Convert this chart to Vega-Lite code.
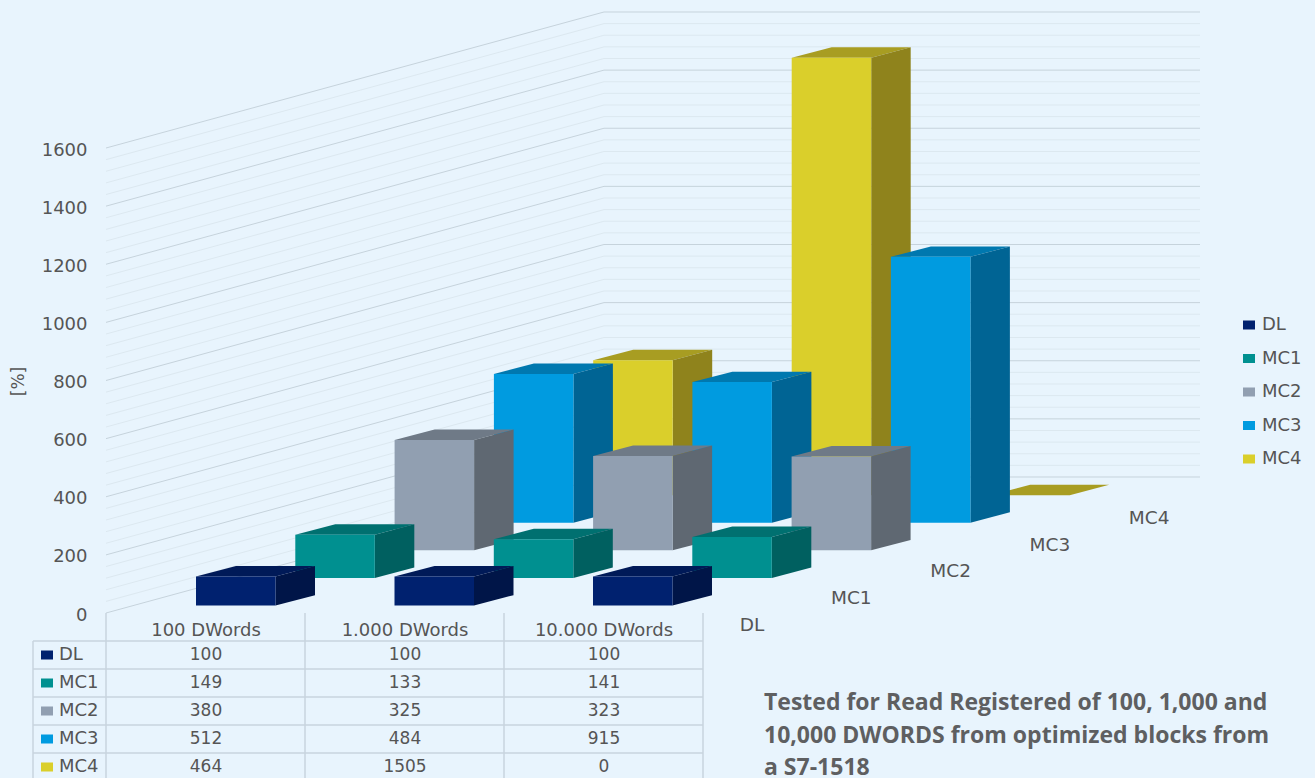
{
"$schema":"https://vega.github.io/schema/vega-lite/v6.json",
"width":1315,"height":778,"padding":0,"autosize":{"type":"none"},
"background":"#E8F4FD",
"resolve":{"axis":{"y":"independent"}},
"config":{"view":{"stroke":null},"font":"DejaVu Sans","text":{"font":"DejaVu Sans","color":"#555555","fontSize":18}},
"datasets":{
"bars":[
{"load":"100 DWords","series":"MC4","value":464},{"load":"1.000 DWords","series":"MC4","value":1505},{"load":"10.000 DWords","series":"MC4","value":0},
{"load":"100 DWords","series":"MC3","value":512},{"load":"1.000 DWords","series":"MC3","value":484},{"load":"10.000 DWords","series":"MC3","value":915},
{"load":"100 DWords","series":"MC2","value":380},{"load":"1.000 DWords","series":"MC2","value":325},{"load":"10.000 DWords","series":"MC2","value":323},
{"load":"100 DWords","series":"MC1","value":149},{"load":"1.000 DWords","series":"MC1","value":133},{"load":"10.000 DWords","series":"MC1","value":141},
{"load":"100 DWords","series":"DL","value":100},{"load":"1.000 DWords","series":"DL","value":100},{"load":"10.000 DWords","series":"DL","value":100}],
"seriesList":[{"series":"DL","si":0},{"series":"MC1","si":1},{"series":"MC2","si":2},{"series":"MC3","si":3},{"series":"MC4","si":4}],
"loadList":[{"load":"100 DWords","gi":0},{"load":"1.000 DWords","gi":1},{"load":"10.000 DWords","gi":2}],
"levels":[{"level":0},{"level":40},{"level":80},{"level":120},{"level":160},{"level":200},{"level":240},{"level":280},{"level":320},{"level":360},{"level":400},{"level":440},{"level":480},{"level":520},{"level":560},{"level":600},{"level":640},{"level":680},{"level":720},{"level":760},{"level":800},{"level":840},{"level":880},{"level":920},{"level":960},{"level":1000},{"level":1040},{"level":1080},{"level":1120},{"level":1160},{"level":1200},{"level":1240},{"level":1280},{"level":1320},{"level":1360},{"level":1400},{"level":1440},{"level":1480},{"level":1520},{"level":1560},{"level":1600}],
"colEdges":[{"c":0},{"c":1},{"c":2},{"c":3}],
"rowEdges":[{"r":0},{"r":1},{"r":2},{"r":3},{"r":4}]
},
"layer":[
{"data":{"name":"levels"},
 "transform":[{"calculate":"datum.level+468","as":"back"}],
 "mark":{"type":"rule"},
 "encoding":{
  "x":{"datum":106,"type":"quantitative","scale":{"domain":[0,1315]},"axis":null},
  "x2":{"datum":604},
  "y":{"field":"level","type":"quantitative","scale":{"domain":[-567.74,2109.25]},
   "axis":{"values":[0,200,400,600,800,1000,1200,1400,1600],"format":"d","orient":"left","offset":-87,"domain":false,"ticks":false,"grid":false,"labelPadding":0,"labelOffset":2,"labelFontSize":18,"labelFont":"DejaVu Sans","labelColor":"#555555","title":"[%]","titleFontSize":17,"titleFont":"DejaVu Sans","titleFontWeight":"normal","titleColor":"#555555","titleX":-60,"titleY":381,"titleAngle":270}},
  "y2":{"field":"back"},
  "stroke":{"condition":{"test":"datum.level%200===0","value":"#C6D3DC"},"value":"#DCE8F0"}
 }},
{"data":{"name":"levels"},
 "transform":[{"calculate":"datum.level+468","as":"back"}],
 "mark":{"type":"rule"},
 "encoding":{
  "x":{"datum":604,"type":"quantitative","scale":{"domain":[0,1315]},"axis":null},
  "x2":{"datum":1200},
  "y":{"field":"back","type":"quantitative","scale":{"domain":[-567.74,2109.25]},"axis":null},
  "stroke":{"condition":{"test":"datum.level%200===0","value":"#C6D3DC"},"value":"#DCE8F0"}
 }},
{"data":{"name":"bars"},
 "transform":[
  {"calculate":"indexof(['DL','MC1','MC2','MC3','MC4'],datum.series)","as":"si"},
  {"calculate":"indexof(['100 DWords','1.000 DWords','10.000 DWords'],datum.load)","as":"gi"},
  {"calculate":"196+198.5*datum.gi+99.3*datum.si","as":"x0"},
  {"calculate":"25.5+95*datum.si","as":"base"},
  {"calculate":"datum.base+datum.value","as":"top"},
  {"calculate":"[['top',datum.x0,datum.top,datum.top],['top',datum.x0+40,datum.top,datum.top+36],['top',datum.x0+79.5,datum.top,datum.top+36],['top',datum.x0+119,datum.top+36,datum.top+36],['side',datum.x0+79.5,datum.base,datum.top],['side',datum.x0+119,datum.base+36,datum.top+36],['front',datum.x0,datum.base,datum.top],['front',datum.x0+79.5,datum.base,datum.top]]","as":"verts"},
  {"flatten":["verts"]},
  {"calculate":"datum.verts[0]","as":"face"},
  {"calculate":"datum.verts[1]","as":"vx"},
  {"calculate":"datum.verts[2]","as":"vy"},
  {"calculate":"datum.verts[3]","as":"vy2"},
  {"calculate":"datum.series+' '+datum.face","as":"faceColor"},
  {"calculate":"datum.series+' '+datum.load+' '+datum.face","as":"faceId"}
 ],
 "mark":{"type":"area","interpolate":"linear","opacity":1},
 "encoding":{
  "x":{"field":"vx","type":"quantitative","scale":{"domain":[0,1315]},"axis":null},
  "y":{"field":"vy","type":"quantitative","stack":null,"scale":{"domain":[-567.74,2109.25]},"axis":null},
  "y2":{"field":"vy2"},
  "detail":{"field":"faceId"},
  "fill":{"field":"faceColor","type":"nominal","legend":null,"scale":{
   "domain":["DL front","DL side","DL top","MC1 front","MC1 side","MC1 top","MC2 front","MC2 side","MC2 top","MC3 front","MC3 side","MC3 top","MC4 front","MC4 side","MC4 top"],
   "range":["#00216F","#001548","#001A58","#009090","#006060","#007070","#919FB1","#5F6872","#6F7A87","#009BE0","#006494","#0078AF","#DACF2B","#8F831C","#A89D22"]}}
 }},
{"data":{"name":"seriesList"},
 "transform":[{"calculate":"752+99.3*datum.si","as":"lx"},{"calculate":"(613-625+26.8*datum.si)/0.290625","as":"ly"}],
 "mark":{"type":"text","align":"center","baseline":"middle","fontSize":18.5},
 "encoding":{
  "x":{"field":"lx","type":"quantitative","scale":{"domain":[0,1315]},"axis":null},
  "y":{"field":"ly","type":"quantitative","scale":{"domain":[-567.74,2109.25]},"axis":null},
  "text":{"field":"series"}
 }},
{"data":{"name":"colEdges"},
 "transform":[{"calculate":"106+199*datum.c","as":"ex"}],
 "mark":{"type":"rule","stroke":"#C8D5DE","strokeWidth":1.5},
 "encoding":{
  "x":{"field":"ex","type":"quantitative","scale":{"domain":[0,1315]},"axis":null},
  "y":{"datum":0,"type":"quantitative","scale":{"domain":[-567.74,2109.25]},"axis":null},
  "y2":{"datum":-567.74}
 }},
{"data":{"name":"rowEdges"},
 "transform":[{"calculate":"(613-641-28*datum.r)/0.290625","as":"ey"}],
 "mark":{"type":"rule","stroke":"#C8D5DE","strokeWidth":1.5},
 "encoding":{
  "x":{"datum":33,"type":"quantitative","scale":{"domain":[0,1315]},"axis":null},
  "x2":{"datum":703},
  "y":{"field":"ey","type":"quantitative","scale":{"domain":[-567.74,2109.25]},"axis":null}
 }},
{"data":{"values":[{"edge":"left"}]},
 "mark":{"type":"rule","stroke":"#C8D5DE","strokeWidth":1.5},
 "encoding":{
  "x":{"datum":33,"type":"quantitative","scale":{"domain":[0,1315]},"axis":null},
  "y":{"datum":-96.3,"type":"quantitative","scale":{"domain":[-567.74,2109.25]},"axis":null},
  "y2":{"datum":-567.74}
 }},
{"data":{"name":"loadList"},
 "transform":[{"calculate":"206+199*datum.gi","as":"cx"},{"calculate":"(613-631)/0.290625","as":"cy"}],
 "mark":{"type":"text","align":"center","baseline":"middle","fontSize":18},
 "encoding":{
  "x":{"field":"cx","type":"quantitative","scale":{"domain":[0,1315]},"axis":null},
  "y":{"field":"cy","type":"quantitative","scale":{"domain":[-567.74,2109.25]},"axis":null},
  "text":{"field":"load"}
 }},
{"data":{"name":"bars"},
 "transform":[
  {"calculate":"indexof(['DL','MC1','MC2','MC3','MC4'],datum.series)","as":"si"},
  {"calculate":"indexof(['100 DWords','1.000 DWords','10.000 DWords'],datum.load)","as":"gi"},
  {"calculate":"206+199*datum.gi","as":"cx"},
  {"calculate":"(613-655-28*datum.si)/0.290625","as":"cy"}],
 "mark":{"type":"text","align":"center","baseline":"middle","fontSize":17},
 "encoding":{
  "x":{"field":"cx","type":"quantitative","scale":{"domain":[0,1315]},"axis":null},
  "y":{"field":"cy","type":"quantitative","scale":{"domain":[-567.74,2109.25]},"axis":null},
  "text":{"field":"value","type":"quantitative","format":"d"}
 }},
{"data":{"name":"seriesList"},
 "transform":[{"calculate":"(613-655-28*datum.si)/0.290625","as":"cy"}],
 "mark":{"type":"text","align":"left","baseline":"middle","fontSize":18},
 "encoding":{
  "x":{"datum":59,"type":"quantitative","scale":{"domain":[0,1315]},"axis":null},
  "y":{"field":"cy","type":"quantitative","scale":{"domain":[-567.74,2109.25]},"axis":null},
  "text":{"field":"series"}
 }},
{"data":{"name":"seriesList"},
 "transform":[{"calculate":"(613-655-28*datum.si)/0.290625","as":"cy"}],
 "mark":{"type":"point","filled":true,"opacity":1,"shape":"M-1,-0.75H1V0.75H-1Z","size":144},
 "encoding":{
  "x":{"datum":47,"type":"quantitative","scale":{"domain":[0,1315]},"axis":null},
  "y":{"field":"cy","type":"quantitative","scale":{"domain":[-567.74,2109.25]},"axis":null},
  "color":{"field":"series","type":"nominal","scale":{"domain":["DL","MC1","MC2","MC3","MC4"],"range":["#00216F","#009090","#919FB1","#009BE0","#DACF2B"]},
   "legend":{"title":null,"orient":"none","legendX":1240,"legendY":316,"symbolType":"M-1,-0.75H1V0.75H-1Z","symbolSize":144,"symbolOpacity":1,"labelFontSize":18,"labelFont":"DejaVu Sans","labelColor":"#555555","rowPadding":15.5,"labelOffset":4,"symbolStrokeWidth":0}}
 }},
{"data":{"values":[{"note":"Tested for Read Registered of 100, 1,000 and\n10,000 DWORDS from optimized blocks from\na S7-1518"}]},
 "mark":{"type":"text","align":"left","baseline":"middle","lineBreak":"\n","lineHeight":32.5,"font":"Open Sans","fontWeight":"bold","fontSize":23,"color":"#5E5F61"},
 "encoding":{
  "x":{"datum":764,"type":"quantitative","scale":{"domain":[0,1315]},"axis":null},
  "y":{"datum":-311,"type":"quantitative","scale":{"domain":[-567.74,2109.25]},"axis":null},
  "text":{"field":"note"}
 }}
]
}
